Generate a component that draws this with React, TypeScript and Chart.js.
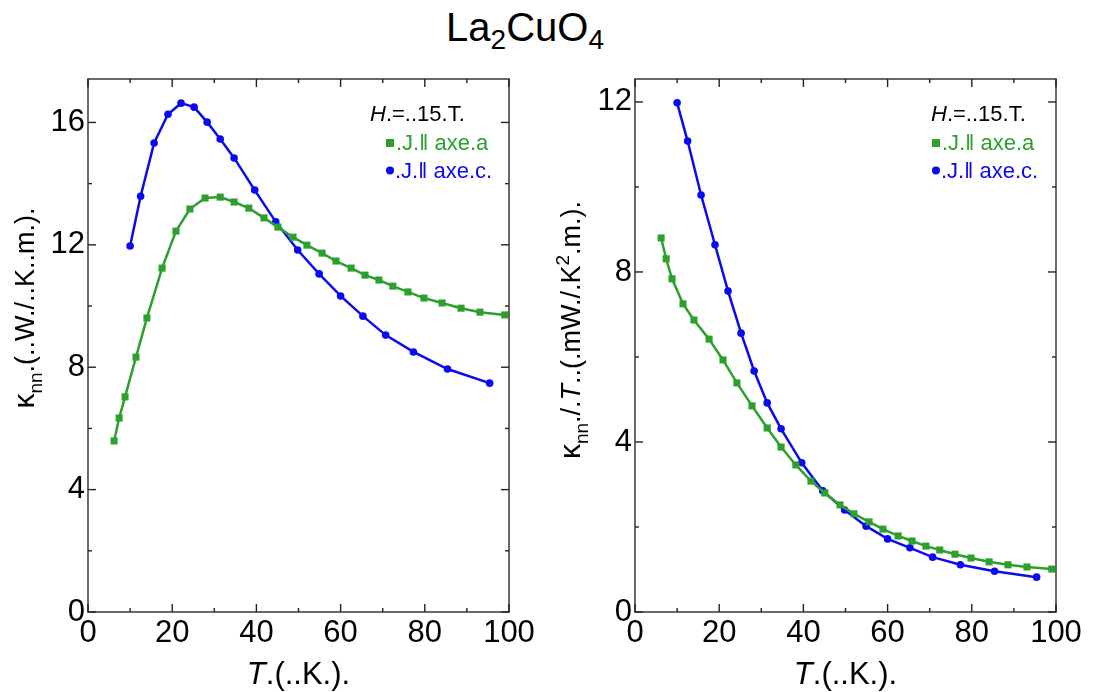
import React, { useEffect, useRef } from "react";
import { Chart, registerables } from "chart.js";

Chart.register(...registerables);

const FONT = "'Liberation Sans', Arial, sans-serif";
const GREEN = "#2ca02c";
const BLUE = "#0a0af0";

// Temperatures (K)
const tempA = [6.2, 7.4, 8.8, 11.4, 14.0, 17.6, 20.9, 24.2, 27.8, 31.4, 34.7, 38.2, 41.8, 45.1, 48.7, 52.0, 55.6, 58.9, 62.5, 65.8, 69.1, 72.4, 76.0, 79.8, 84.1, 88.6, 93.1, 99.0];
const tempC = [10.0, 12.5, 15.7, 19.0, 22.1, 25.2, 28.3, 31.4, 34.7, 39.6, 44.6, 49.8, 54.9, 60.0, 65.3, 70.7, 77.3, 85.4, 95.4];

// kappa_nn (W/K m)
const kappaA = [5.59, 6.34, 7.03, 8.33, 9.61, 11.24, 12.45, 13.17, 13.53, 13.56, 13.4, 13.2, 12.88, 12.58, 12.25, 11.99, 11.73, 11.47, 11.24, 11.01, 10.85, 10.65, 10.46, 10.26, 10.1, 9.93, 9.8, 9.71];
const kappaC = [11.96, 13.59, 15.33, 16.27, 16.63, 16.5, 16.01, 15.46, 14.84, 13.79, 12.75, 11.83, 11.05, 10.33, 9.67, 9.05, 8.5, 7.94, 7.48];

// kappa_nn / T (mW/K^2 m)
const kappaOverTA = [8.8, 8.31, 7.84, 7.25, 6.87, 6.42, 5.93, 5.39, 4.85, 4.33, 3.88, 3.46, 3.08, 2.8, 2.52, 2.31, 2.12, 1.95, 1.79, 1.67, 1.55, 1.46, 1.36, 1.27, 1.18, 1.11, 1.06, 1.01];
const kappaOverTC = [11.98, 11.08, 9.81, 8.64, 7.55, 6.56, 5.67, 4.92, 4.31, 3.51, 2.85, 2.4, 2.02, 1.72, 1.51, 1.29, 1.11, 0.96, 0.82];

const xMajor = [0, 20, 40, 60, 80, 100];
const xMinor = [10, 30, 50, 70, 90];
const yMajorLeft = [0, 4, 8, 12, 16];
const yMinorLeft = [2, 6, 10, 14];
const yMajorRight = [0, 4, 8, 12];
const yMinorRight = [2, 6, 10];

const legendTitle = [{ t: "H", italic: true }, { t: ".=..15.T." }];
const legendA = ".J.\u2016 axe.a";
const legendC = ".J.\u2016 axe.c.";

type Seg = { t: string; italic?: boolean; sub?: boolean; sup?: boolean; scale?: number };

function drawRich(ctx: CanvasRenderingContext2D, segs: Seg[], x: number, y: number, size: number, align: "center" | "left", color: string) {
  const fontFor = (s: Seg) => `${s.italic ? "italic " : ""}${Math.round((s.sub || s.sup ? size * 0.72 : size) * (s.scale || 1))}px ${FONT}`;
  let total = 0;
  const widths = segs.map((s) => {
    ctx.font = fontFor(s);
    const w = ctx.measureText(s.t).width;
    total += w;
    return w;
  });
  let cx = align === "center" ? x - total / 2 : x;
  ctx.textBaseline = "alphabetic";
  ctx.textAlign = "left";
  ctx.fillStyle = color;
  segs.forEach((s, i) => {
    ctx.font = fontFor(s);
    const dy = s.sub ? size * 0.28 : s.sup ? -size * 0.42 : 0;
    ctx.fillText(s.t, cx, y + dy);
    cx += widths[i];
  });
}

type PanelCfg = {
  left: number;
  yMax: number;
  yMajor: number[];
  yMinor: number[];
  dataA: number[];
  dataC: number[];
  yTitle: Seg[];
  yTitleX: number;
  yTitleY: number;
  legendHX: number;
  legendMX: number;
};

function Panel({ cfg }: { cfg: PanelCfg }) {
  const ref = useRef<HTMLCanvasElement | null>(null);
  useEffect(() => {
    const canvas = ref.current;
    if (!canvas) return;
    const decor = {
      id: "decor",
      afterDraw(chart: any) {
        const ctx: CanvasRenderingContext2D = chart.ctx;
        const { left, right, top, bottom } = chart.chartArea;
        const xs = chart.scales.x;
        const ys = chart.scales.y;
        ctx.save();
        ctx.strokeStyle = "#444";
        ctx.lineWidth = 1.6;
        ctx.strokeRect(left, top, right - left, bottom - top);
        ctx.strokeStyle = "#222";
        ctx.lineWidth = 1.4;
        const tick = (x1: number, y1: number, x2: number, y2: number) => {
          ctx.beginPath();
          ctx.moveTo(x1, y1);
          ctx.lineTo(x2, y2);
          ctx.stroke();
        };
        xMajor.forEach((v) => {
          const p = xs.getPixelForValue(v);
          tick(p, bottom, p, bottom - 8);
          tick(p, top, p, top + 8);
        });
        xMinor.forEach((v) => {
          const p = xs.getPixelForValue(v);
          tick(p, bottom, p, bottom - 4);
          tick(p, top, p, top + 4);
        });
        cfg.yMajor.forEach((v) => {
          const p = ys.getPixelForValue(v);
          tick(left, p, left + 8, p);
          tick(right, p, right - 8, p);
        });
        cfg.yMinor.forEach((v) => {
          const p = ys.getPixelForValue(v);
          tick(left, p, left + 4, p);
          tick(right, p, right - 4, p);
        });
        // x title
        drawRich(ctx, [{ t: "T", italic: true }, { t: ".(..K.)." }], (left + right) / 2, 684, 31, "center", "#000");
        // y title
        ctx.save();
        ctx.translate(cfg.yTitleX, cfg.yTitleY);
        ctx.rotate(-Math.PI / 2);
        drawRich(ctx, cfg.yTitle, 0, 0, 27, "center", "#000");
        ctx.restore();
        // legend
        drawRich(ctx, legendTitle, cfg.legendHX, 121, 22, "left", "#000");
        ctx.fillStyle = GREEN;
        ctx.fillRect(cfg.legendMX - 4, 139, 8, 8);
        drawRich(ctx, [{ t: legendA }], cfg.legendMX + 6, 150, 22, "left", GREEN);
        ctx.fillStyle = BLUE;
        ctx.beginPath();
        ctx.arc(cfg.legendMX, 170.5, 4, 0, Math.PI * 2);
        ctx.fill();
        drawRich(ctx, [{ t: legendC }], cfg.legendMX + 5, 178, 22, "left", BLUE);
        ctx.restore();
      },
    };
    const chart = new Chart(canvas, {
      type: "line",
      data: {
        datasets: [
          {
            data: tempA.map((t, i) => ({ x: t, y: cfg.dataA[i] })),
            borderColor: GREEN,
            backgroundColor: GREEN,
            borderWidth: 2.5,
            pointStyle: "rect",
            pointRadius: 5,
            pointBorderWidth: 0,
            tension: 0,
          },
          {
            data: tempC.map((t, i) => ({ x: t, y: cfg.dataC[i] })),
            borderColor: BLUE,
            backgroundColor: BLUE,
            borderWidth: 2.5,
            pointStyle: "circle",
            pointRadius: 3.8,
            pointBorderWidth: 0,
            tension: 0,
          },
        ],
      },
      options: {
        responsive: false,
        animation: false,
        layout: { padding: { left: 0, right: 38, top: 79, bottom: 0 } },
        plugins: { legend: { display: false }, tooltip: { enabled: false }, title: { display: false } },
        scales: {
          x: {
            type: "linear",
            min: 0,
            max: 100,
            afterBuildTicks: (s: any) => {
              s.ticks = xMajor.map((v) => ({ value: v }));
            },
            afterFit: (s: any) => {
              s.height = 80;
            },
            grid: { display: false, drawTicks: false },
            border: { display: false },
            ticks: { font: { family: FONT, size: 31 }, color: "#000", padding: 3, maxRotation: 0, autoSkip: false },
          },
          y: {
            type: "linear",
            min: 0,
            max: cfg.yMax,
            afterBuildTicks: (s: any) => {
              s.ticks = cfg.yMajor.map((v) => ({ value: v }));
            },
            afterFit: (s: any) => {
              s.width = 88;
            },
            grid: { display: false, drawTicks: false },
            border: { display: false },
            ticks: { font: { family: FONT, size: 31 }, color: "#000", padding: 3, autoSkip: false },
          },
        },
      },
      plugins: [decor],
    } as any);
    return () => chart.destroy();
  }, []);
  return <canvas ref={ref} width={547} height={692} style={{ position: "absolute", left: cfg.left, top: 0, width: 547, height: 692 }} />;
}

const leftCfg: PanelCfg = {
  left: 0,
  yMax: 17.42,
  yMajor: yMajorLeft,
  yMinor: yMinorLeft,
  dataA: kappaA,
  dataC: kappaC,
  yTitle: [{ t: "\u03ba", scale: 1.1 }, { t: "nn", sub: true }, { t: ".(..W./..K..m.)." }],
  yTitleX: 34,
  yTitleY: 308,
  legendHX: 370,
  legendMX: 390,
};

const rightCfg: PanelCfg = {
  left: 547,
  yMax: 12.54,
  yMajor: yMajorRight,
  yMinor: yMinorRight,
  dataA: kappaOverTA,
  dataC: kappaOverTC,
  yTitle: [{ t: "\u03ba", scale: 1.1 }, { t: "nn", sub: true }, { t: "./." }, { t: "T", italic: true }, { t: "..(.mW./.K" }, { t: "2", sup: true }, { t: ".m.)." }],
  yTitleX: 33,
  yTitleY: 330,
  legendHX: 384,
  legendMX: 389,
};

export default function App() {
  return (
    <div style={{ position: "absolute", left: 0, top: 0, width: 1094, height: 692, background: "#fff", overflow: "hidden" }}>
      <div style={{ position: "absolute", left: 0, top: 4, width: 1050, textAlign: "center", fontFamily: FONT, fontSize: 40, lineHeight: "46px", color: "#000" }}>
        La<span style={{ fontSize: 28, verticalAlign: -8 }}>2</span>CuO<span style={{ fontSize: 28, verticalAlign: -8 }}>4</span>
      </div>
      <Panel cfg={leftCfg} />
      <Panel cfg={rightCfg} />
    </div>
  );
}
